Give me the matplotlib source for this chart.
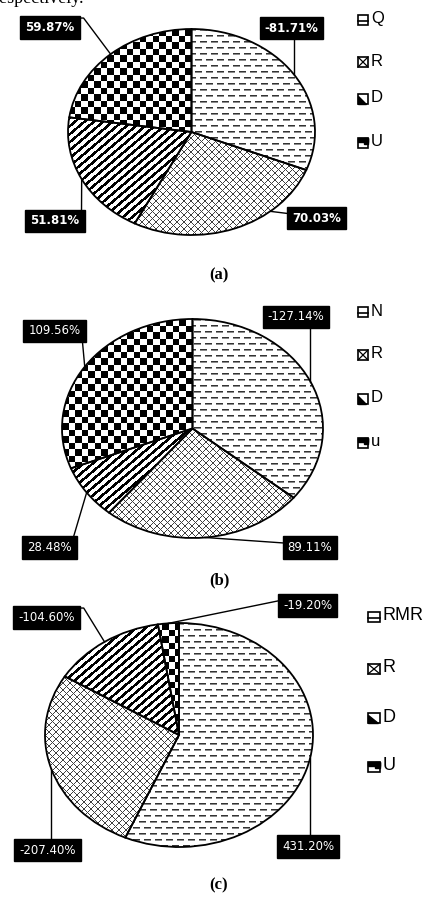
import numpy as np
import matplotlib
matplotlib.use("Agg")
import matplotlib.pyplot as plt
from matplotlib.patches import Rectangle, Polygon

W, H, DPI = 427, 900, 100

# ---------------- data ----------------
a_names = ["Q", "R", "D", "U"]
a_values = [-81.71, 70.03, 51.81, 59.87]

b_names = ["N", "R", "D", "u"]
b_values = [-127.14, 89.11, 28.48, 109.56]

c_names = ["RMR", "R", "D", "U"]
c_values = [431.20, -207.40, -104.60, -19.20]

captions = ["(a)", "(b)", "(c)"]

# ---------------- layout (pixels, origin top-left) ----------------
panels = [
    dict(names=a_names, values=a_values, box=(68, 29, 247, 206), caption_xy=(219, 275),
         label_bold=True, legend_x=358, legend_y=[20, 62, 99, 143], icon_w=10, legend_fs=12,
         labels=[((291.5, 28), "bottom", 0.5), ((316.5, 218), "left", 0.70),
                 ((55, 221), "top", 0.5), ((50, 27.5), "right", 0.5)]),
    dict(names=b_names, values=b_values, box=(62, 319, 261, 219), caption_xy=(219, 580),
         label_bold=False, legend_x=358, legend_y=[312, 355, 399, 443], icon_w=10, legend_fs=12,
         labels=[((296, 317), "bottom", 0.5), ((310, 547.5), "left", 0.5),
                 ((49.5, 547.5), "top", 0.5), ((54.5, 331), "bottom", 0.5)]),
    dict(names=c_names, values=c_values, box=(45, 623, 268, 224), caption_xy=(219, 885),
         label_bold=False, legend_x=368, legend_y=[617, 669, 718, 767], icon_w=12, legend_fs=13,
         labels=[((308, 846.5), "top", 0.5), ((47.5, 850), "top", 0.5),
                 ((46.5, 617.5), "right", 0.5), ((307.5, 605.5), "left", 0.5)]),
]
pattern_kinds = ["dash", "cross", "stripe", "checker"]


def texture(kind, w, h):
    i, j = np.mgrid[0:h, 0:w]
    g = np.ones((h, w))
    if kind == "dash":
        k = i // 6
        r = i % 6
        on = ((j + (k % 2) * 5) % 11) < 7
        g[(r == 0) & on] = 0.2
        g[(r == 1) & on] = 0.55
    elif kind == "cross":
        on = ((i + j) % 7 == 0) | ((j - i) % 7 == 0)
        g[on] = 0.25
    elif kind == "stripe":
        on = ((i + 0.85 * j) % 8) < 3.5
        g[on] = 0.0
    elif kind == "checker":
        on = ((np.floor(i / 6.5) + np.floor(j / 6.5)) % 2) == 0
        g[on] = 0.0
    return np.dstack([g, g, g])


fig = plt.figure(figsize=(W / DPI, H / DPI), dpi=DPI)
fig.patch.set_facecolor("white")

bg = fig.add_axes([0, 0, 1, 1])
bg.set_xlim(0, W)
bg.set_ylim(H, 0)
bg.axis("off")
bg.set_zorder(5)
bg.patch.set_alpha(0)

# heading text line running off the top edge
bg.text(-12, 3, "Respectively.", fontsize=13, family="Liberation Serif",
        ha="left", va="baseline", color="black")

label_items = []
for idx, p in enumerate(panels):
    x0, y0, w, h = p["box"]
    ax = fig.add_axes([x0 / W, 1 - (y0 + h) / H, w / W, h / H])
    vals = np.abs(np.array(p["values"]))
    wedges, _ = ax.pie(vals, startangle=90, counterclock=False,
                       wedgeprops=dict(facecolor="none", edgecolor="black",
                                       linewidth=1.3, zorder=3))
    ax.set_aspect("auto")
    ax.axis("off")
    for wdg, kind in zip(wedges, pattern_kinds):
        im = ax.imshow(texture(kind, w, h), extent=[-1, 1, -1, 1],
                       interpolation="nearest", aspect="auto", zorder=1)
        im.set_clip_path(wdg)
    ax.set_xlim(-1, 1)
    ax.set_ylim(-1, 1)

    # value labels
    for wdg, v, (cxy, side, frac) in zip(wedges, p["values"], p["labels"]):
        ang = np.deg2rad(wdg.theta1 + frac * (wdg.theta2 - wdg.theta1))
        disp = ax.transData.transform((np.cos(ang), np.sin(ang)))
        anchor = bg.transData.inverted().transform(disp)
        t = bg.text(cxy[0], cxy[1], f"{v:.2f}%", ha="center", va="center",
                    color="white", fontsize=8.5,
                    fontweight="bold" if p["label_bold"] else "normal",
                    family="DejaVu Sans", zorder=4,
                    bbox=dict(boxstyle="square,pad=0.42", fc="black", ec="black"))
        label_items.append((t, anchor, side))

    # legend
    iw, ih = p["icon_w"], 10
    lx = p["legend_x"]
    for name, ly, kind in zip(p["names"], p["legend_y"], pattern_kinds):
        ix, iy = lx, ly - ih / 2
        bg.add_patch(Rectangle((ix, iy), iw, ih, fc="white", ec="black", lw=1.2))
        if kind == "dash":
            bg.plot([ix, ix + iw], [iy + 0.6 * ih] * 2, color="black", lw=1.2)
        elif kind == "cross":
            bg.plot([ix, ix + iw], [iy, iy + ih], color="black", lw=0.9)
            bg.plot([ix, ix + iw], [iy + ih, iy], color="black", lw=0.9)
        elif kind == "stripe":
            bg.add_patch(Polygon([(ix, iy + 0.2 * ih), (ix, iy + ih), (ix + 0.8 * iw, iy + ih)],
                                 closed=True, fc="black", ec="black"))
        else:
            bg.add_patch(Rectangle((ix, iy), iw, 0.35 * ih, fc="black", ec="black"))
            bg.add_patch(Rectangle((ix + 0.6 * iw, iy), 0.4 * iw, 0.6 * ih, fc="black", ec="black"))
        bg.text(lx + iw + 3, ly - 1, name, fontsize=p["legend_fs"], family="Liberation Sans",
                ha="left", va="center", color="black")

    bg.text(p["caption_xy"][0], p["caption_xy"][1], captions[idx],
            fontsize=12, fontweight="bold", family="Liberation Serif",
            ha="center", va="center")

# leader lines from label boxes to the wedge edges
fig.canvas.draw()
renderer = fig.canvas.get_renderer()
inv = bg.transData.inverted()
for t, (axx, ayy), side in label_items:
    ext = t.get_bbox_patch().get_window_extent(renderer)
    (bx0, by1), (bx1, by0) = inv.transform([(ext.x0, ext.y0), (ext.x1, ext.y1)])
    if side == "bottom":
        px = np.clip(axx, bx0 + 3, bx1 - 3)
        xs, ys = [axx, px], [ayy, by1]
    elif side == "top":
        px = np.clip(axx, bx0 + 3, bx1 - 3)
        xs, ys = [axx, px], [ayy, by0]
    elif side == "left":
        py = by0 + 0.3 * (by1 - by0)
        xs, ys = [axx, bx0], [ayy, py]
    else:
        py = by0 + 2
        xs, ys = [axx, bx1 + 4, bx1], [ayy, py, py]
    bg.plot(xs, ys, color="black", lw=1.0, zorder=2)

fig.savefig("out.png", dpi=DPI, facecolor="white")
